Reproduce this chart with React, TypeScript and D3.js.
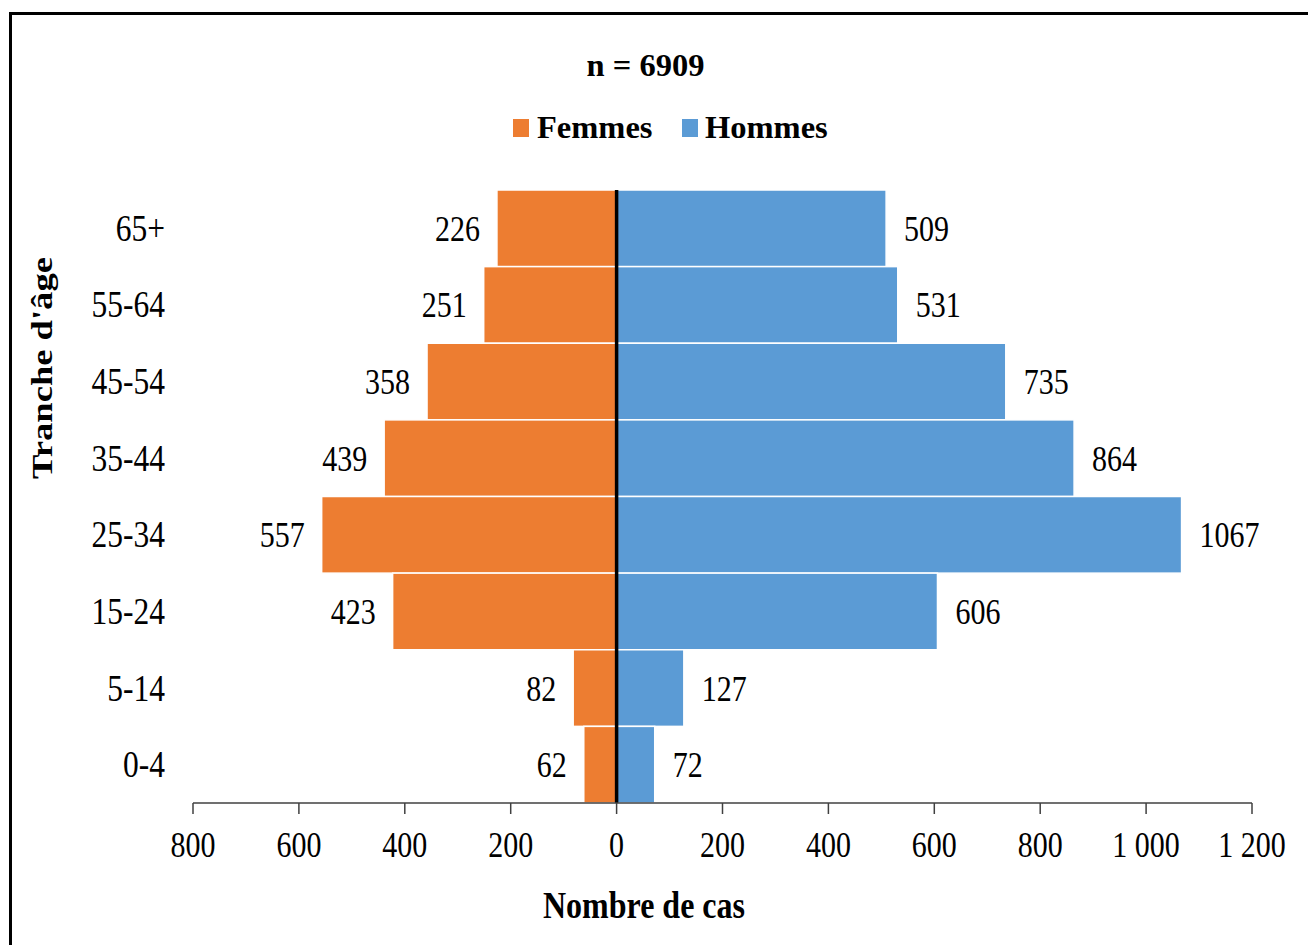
import React from "react";
import * as d3 from "d3";

const ageGroups = ["65+", "55-64", "45-54", "35-44", "25-34", "15-24", "5-14", "0-4"];
const femmes = [226, 251, 358, 439, 557, 423, 82, 62];
const hommes = [509, 531, 735, 864, 1067, 606, 127, 72];
const tickValues = [-800, -600, -400, -200, 0, 200, 400, 600, 800, 1000, 1200];
const title = "n = 6909";
const seriesNames = ["Femmes", "Hommes"];
const xTitle = "Nombre de cas";
const yTitle = "Tranche d'âge";

const ORANGE = "#ED7D31";
const BLUE = "#5B9BD5";
const FONT = "'Liberation Serif', 'Times New Roman', serif";
const K = 1.2; // vertical stretch of plot texts

const frLocale = d3.formatLocale({ decimal: ",", thousands: " ", grouping: [3], currency: ["", ""] });
const fmt = frLocale.format(",d");

function ST({ x, y, k = K, anchor = "start", size = 30, weight = "normal", children }: any) {
  return (
    <text
      transform={`translate(${x},${y}) scale(1,${k})`}
      textAnchor={anchor}
      fontSize={size}
      fontWeight={weight}
      fontFamily={FONT}
      fill="#000"
    >
      {children}
    </text>
  );
}

export default function App() {
  const x = d3.scaleLinear().domain([-800, 1200]).range([193, 1252]);
  const y = d3.scaleBand().domain(ageGroups).range([190, 803]).padding(0);
  const bw = y.bandwidth();
  const x0 = x(0);

  return (
    <svg
      width={1308}
      height={945}
      style={{ position: "absolute", left: 0, top: 0, display: "block", background: "#fff" }}
    >
      <rect x={0} y={0} width={1308} height={945} fill="#fff" />
      <rect x={10.5} y={13.5} width={1320} height={960} fill="none" stroke="#000" strokeWidth={3} />

      {/* title */}
      <text x={645.5} y={76} textAnchor="middle" fontSize={32.5} fontWeight="bold" fontFamily={FONT}>
        {title}
      </text>

      {/* legend */}
      <rect x={513} y={119} width={16} height={18} fill={ORANGE} />
      <text x={537} y={138} fontSize={32.5} fontWeight="bold" fontFamily={FONT}>{seriesNames[0]}</text>
      <rect x={682} y={119} width={16} height={18} fill={BLUE} />
      <text x={705} y={138} fontSize={32.5} fontWeight="bold" fontFamily={FONT}>{seriesNames[1]}</text>

      {/* bars */}
      {ageGroups.map((g, i) => (
        <g key={g}>
          <rect
            x={x(-femmes[i])}
            y={y(g)!}
            width={x0 - x(-femmes[i])}
            height={bw}
            fill={ORANGE}
            stroke="#fff"
            strokeWidth={1.5}
          />
          <rect
            x={x0}
            y={y(g)!}
            width={x(hommes[i]) - x0}
            height={bw}
            fill={BLUE}
            stroke="#fff"
            strokeWidth={1.5}
          />
        </g>
      ))}

      {/* center line */}
      <line x1={x0} x2={x0} y1={190} y2={803} stroke="#000" strokeWidth={3.5} />

      {/* value labels */}
      {ageGroups.map((g, i) => {
        const cy = y(g)! + bw / 2 + 12.5;
        return (
          <g key={"l" + g}>
            <ST x={x(-femmes[i]) - 17} y={cy} anchor="end">{femmes[i]}</ST>
            <ST x={x(hommes[i]) + 18} y={cy} anchor="start">{hommes[i]}</ST>
          </g>
        );
      })}

      {/* y labels */}
      {ageGroups.map((g) => (
        <ST key={"y" + g} x={165} y={y(g)! + bw / 2 + 12.5} anchor="end" size={31.5}>{g}</ST>
      ))}

      {/* x axis */}
      <line x1={x(-800)} x2={x(1200)} y1={803} y2={803} stroke="#404040" strokeWidth={1.5} />
      {tickValues.map((t) => (
        <g key={"t" + t}>
          <line x1={x(t)} x2={x(t)} y1={803} y2={814} stroke="#404040" strokeWidth={1.5} />
          <ST x={x(t)} y={856.5} anchor="middle">{fmt(Math.abs(t))}</ST>
        </g>
      ))}

      {/* axis titles */}
      <ST x={644} y={918} anchor="middle" size={32} weight="bold" k={1.17}>{xTitle}</ST>
      <text
        transform={`translate(52,368) rotate(-90) scale(1.2,1)`}
        textAnchor="middle"
        fontSize={30.5}
        fontWeight="bold"
        fontFamily={FONT}
      >
        {yTitle}
      </text>
    </svg>
  );
}
